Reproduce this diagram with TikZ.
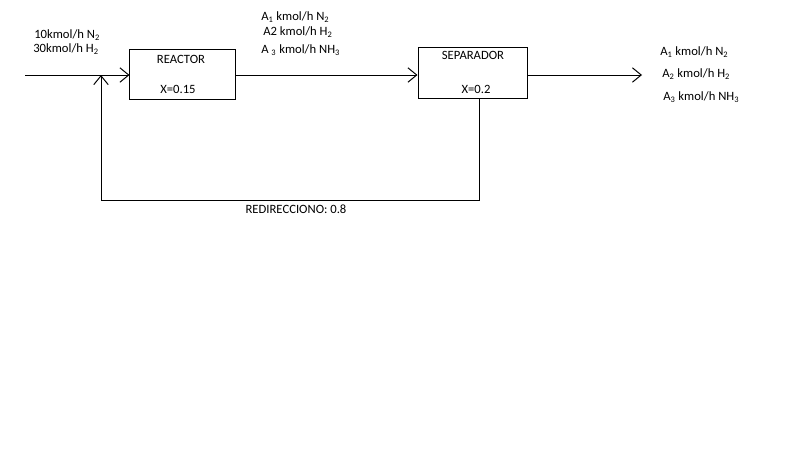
\documentclass[tikz,border=0pt]{standalone}
\usepackage{fontspec}
\setmainfont{Carlito}
\usepackage{tikz}
\usetikzlibrary{arrows.meta}
\tikzstyle{unit}=[draw, line width=.7pt, minimum width=2.625cm, minimum height=1.25cm, inner sep=0pt]
\tikzstyle{flow}=[line width=.7pt, -{Straight Barb[length=2.2mm, width=3.6mm]}]
\tikzstyle{lbl}=[inner sep=0pt, anchor=west, font=\fontsize{9}{10}\selectfont]
\newcommand{\sub}[1]{\textsubscript{#1}}

\begin{document}
\begin{tikzpicture}[x=0.025cm, y=-0.025cm]
 \useasboundingbox (0,0) rectangle (800,450);
%
 \node[unit] (reactor) at (182.5,74) {};
 \node[unit, minimum width=2.725cm, minimum height=1.275cm] (separador) at (472.5,72.5) {};
 \node[lbl, anchor=center] (reactorname) at (181,59) {REACTOR};
 \node[lbl, anchor=center] (reactorx) at (178,89) {X=0.15};
 \node[lbl, anchor=center] (separadorname) at (473,55) {SEPARADOR};
 \node[lbl, anchor=center] (separadorx) at (476,89) {X=0.2};
%
 \coordinate (feed) at (25,75);
 \coordinate (mix) at (101,75);
 \coordinate (split) at (479,98);
 \coordinate (product) at (642,75);
%
 \draw[flow] (feed) -- (reactor.west |- feed);
 \draw[flow] (reactor.east |- feed) -- (separador.west |- feed);
 \draw[flow] (separador.east |- feed) -- (product);
 \draw[flow] (split) -- ++(0,102) -| (mix);
%
 \node[lbl] (feedn) at (34,35) {10kmol/h N\sub{2}};
 \node[lbl] (feedh) at (33,49) {30kmol/h H\sub{2}};
 \node[lbl] (midn) at (261,17) {A\sub{1} kmol/h N\sub{2}};
 \node[lbl] (midh) at (263,32) {A2 kmol/h H\sub{2}};
 \node[lbl] (midnh) at (261,50) {A \sub{3} kmol/h NH\sub{3}};
 \node[lbl] (outn) at (660,52) {A\sub{1} kmol/h N\sub{2}};
 \node[lbl] (outh) at (662,74) {A\sub{2} kmol/h H\sub{2}};
 \node[lbl] (outnh) at (663,97) {A\sub{3} kmol/h NH\sub{3}};
 \node[lbl, anchor=center] (recycle) at (296,209) {REDIRECCIONO: 0.8};
\end{tikzpicture}
\end{document}
